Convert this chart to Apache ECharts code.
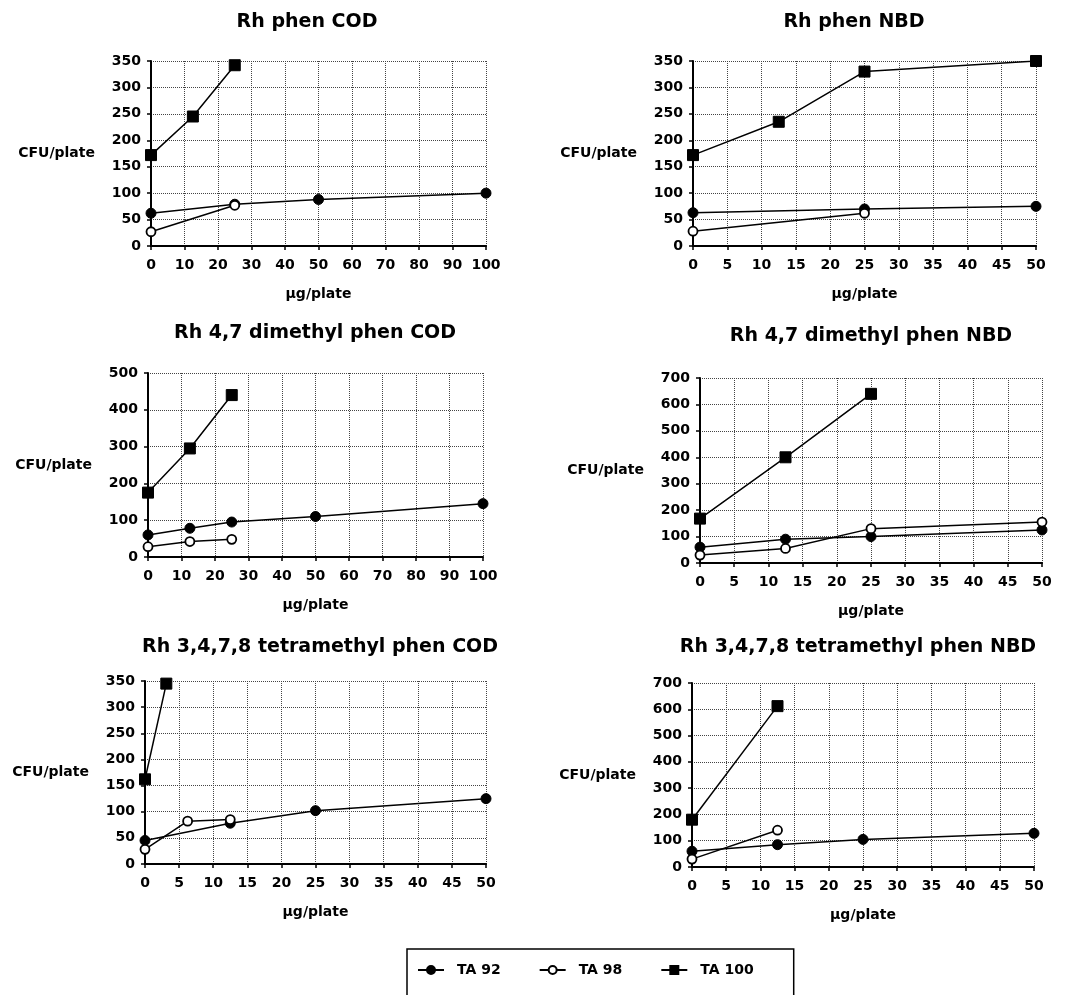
<!DOCTYPE html>
<html>
<head>
<meta charset="utf-8">
<script src="https://cdn.jsdelivr.net/npm/echarts@6/dist/echarts.min.js"></script>
<style>
  html, body { margin: 0; padding: 0; background: #fff; }
  #main { width: 1073px; height: 995px; }
</style>
</head>
<body>
<div id="main"></div>
<script>
// panel titles
var titles = [
    'Rh phen COD',
    'Rh phen NBD',
    'Rh 4,7 dimethyl phen COD',
    'Rh 4,7 dimethyl phen NBD',
    'Rh 3,4,7,8 tetramethyl phen COD',
    'Rh 3,4,7,8 tetramethyl phen NBD'
];

// axis ranges per panel
var xMax = [100, 50, 100, 50, 50, 50];
var xStep = [10, 5, 10, 5, 5, 5];
var yMax = [350, 350, 500, 700, 350, 700];
var yStep = [50, 50, 100, 100, 50, 100];

// [µg/plate, CFU/plate]
var ta92 = [
    [[0, 62], [25, 79], [50, 88], [100, 100]],
    [[0, 63], [25, 70], [50, 75]],
    [[0, 60], [12.5, 78], [25, 95], [50, 110], [100, 145]],
    [[0, 60], [12.5, 90], [25, 100], [50, 125]],
    [[0, 45], [12.5, 78], [25, 102], [50, 125]],
    [[0, 60], [12.5, 85], [25, 105], [50, 128]]
];
var ta98 = [
    [[0, 27], [25, 77]],
    [[0, 28], [25, 62]],
    [[0, 28], [12.5, 42], [25, 48]],
    [[0, 30], [12.5, 55], [25, 130], [50, 155]],
    [[0, 28], [6.25, 82], [12.5, 85]],
    [[0, 30], [12.5, 140]]
];
var ta100 = [
    [[0, 172], [12.5, 245], [25, 342]],
    [[0, 172], [12.5, 235], [25, 330], [50, 350]],
    [[0, 175], [12.5, 295], [25, 440]],
    [[0, 168], [12.5, 400], [25, 640]],
    [[0, 162], [3.125, 345]],
    [[0, 180], [12.5, 612]]
];

// grid boxes: left, top, width, height
var boxes = [
    [151, 61, 335, 185],
    [693, 61, 343, 185],
    [148, 373, 335, 184],
    [700, 378, 342, 185],
    [145, 681, 341, 183],
    [692, 683, 342, 184]
];
// title centres (x, y)
var titlePos = [[307, 24], [854, 24], [315, 335], [871, 338], [320, 649], [858, 649]];

var FONT = 'DejaVu Sans';
var chart = echarts.init(document.getElementById('main'));

var grid = [], xAxis = [], yAxis = [], title = [], series = [];

boxes.forEach(function (b, i) {
    grid.push({ left: b[0], top: b[1], width: b[2], height: b[3], containLabel: false });
    title.push({
        text: titles[i],
        left: titlePos[i][0],
        top: titlePos[i][1] - 11,
        textAlign: 'center',
        padding: 0,
        textStyle: { fontFamily: FONT, fontSize: 19, fontWeight: 'bold', color: '#000' }
    });
    xAxis.push({
        type: 'value', gridIndex: i, min: 0, max: xMax[i], interval: xStep[i],
        name: 'µg/plate', nameLocation: 'middle', nameGap: 41,
        nameTextStyle: { fontFamily: FONT, fontSize: 14, fontWeight: 'bold', color: '#000' },
        axisLine: { lineStyle: { color: '#000', width: 2 } },
        axisTick: { show: true, length: 4, lineStyle: { color: '#000', width: 1.5 } },
        axisLabel: { fontFamily: FONT, fontSize: 14, fontWeight: 'bold', color: '#000', margin: 12 },
        splitLine: { show: true, lineStyle: { type: 'dotted', color: '#444', width: 1 } }
    });
    yAxis.push({
        type: 'value', gridIndex: i, min: 0, max: yMax[i], interval: yStep[i],
        name: 'CFU/plate', nameLocation: 'middle', nameRotate: 0, nameGap: 56,
        nameTextStyle: { fontFamily: FONT, fontSize: 14, fontWeight: 'bold', color: '#000' },
        axisLine: { show: true, lineStyle: { color: '#000', width: 2 } },
        axisTick: { show: true, length: 4, lineStyle: { color: '#000', width: 1.5 } },
        axisLabel: { fontFamily: FONT, fontSize: 14, fontWeight: 'bold', color: '#000', margin: 10 },
        splitLine: { show: true, lineStyle: { type: 'dotted', color: '#444', width: 1 } }
    });

    var common = {
        type: 'line', xAxisIndex: i, yAxisIndex: i,
        lineStyle: { color: '#000', width: 1.5 },
        itemStyle: { color: '#000', borderColor: '#000', borderWidth: 1 },
        symbolSize: 10, z: 3
    };
    series.push(Object.assign({}, common, { name: 'TA 92', symbol: 'circle', data: ta92[i] }));
    series.push(Object.assign({}, common, { name: 'TA 98', symbol: 'circle', symbolSize: 9, data: ta98[i],
        itemStyle: { color: '#fff', borderColor: '#000', borderWidth: 1.8 } }));
    series.push(Object.assign({}, common, { name: 'TA 100', symbol: 'rect', symbolSize: 11, data: ta100[i] }));
});

chart.setOption({
    animation: false,
    backgroundColor: '#fff',
    title: title,
    grid: grid,
    xAxis: xAxis,
    yAxis: yAxis,
    legend: {
        data: ['TA 92', 'TA 98', 'TA 100'],
        left: 407, top: 949,
        itemGap: 38, itemWidth: 26, itemHeight: 10,
        padding: [14, 40, 40, 10],
        borderColor: '#000', borderWidth: 1.5,
        textStyle: { fontFamily: FONT, fontSize: 14, fontWeight: 'bold', color: '#000', padding: [0, 0, 0, 8] }
    },
    series: series
});
</script>
</body>
</html>
